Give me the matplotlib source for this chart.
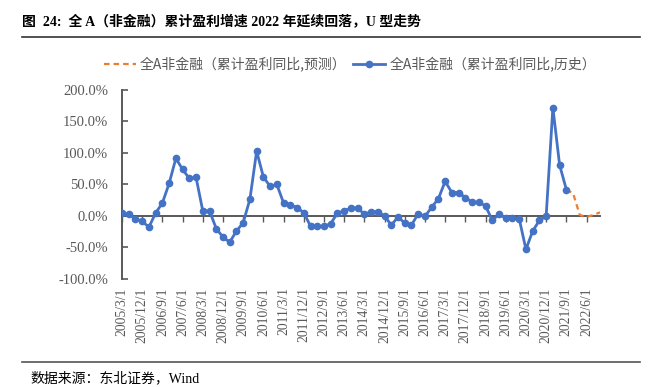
import matplotlib.pyplot as plt
import matplotlib.lines as mlines
import pandas as pd
import numpy as np

# quarterly dates 2005Q1 .. 2022Q4
dates = pd.date_range('2005-03-01', '2022-12-01', freq='3MS')
labels = [f'{d.year}/{d.month}/1' for d in dates]

# cumulative profit growth, non-financial all-A (%), history
hist = [5.3, 2.7, -4.3, -8.5, -17.6, 4.8, 20.7, 51.6, 91.5, 74.0, 59.6, 61.2,
        8.0, 8.0, -20.0, -33.5, -41.5, -24.0, -10.6, 26.6, 103.0, 62.0, 47.0, 50.0,
        20.7, 18.0, 13.3, 5.3, -16.0, -16.5, -16.5, -12.2, 4.8, 8.0, 12.8, 12.8,
        2.7, 6.9, 6.9, 0.0, -14.4, -1.6, -11.2, -14.4, 3.7, -0.5, 13.8, 27.7,
        54.8, 37.2, 37.2, 29.3, 21.8, 21.8, 16.0, -6.9, 2.7, -3.2, -3.2, -4.3,
        -53.0, -24.0, -6.9, -0.5, 172.0, 81.0, 42.0]
# forecast, starting at the last historical quarter
fcst = [42.0, 36.0, 1.6, -1.5, 1.6, 5.8]

blue = '#4472C4'
orange = '#ED7D31'
grey = '#595959'
serif_cjk = ['Liberation Serif', 'Noto Sans CJK SC']

fig = plt.figure(figsize=(6.63, 3.87), dpi=100)
ax = fig.add_axes([122/663, 1-279/387, 478/663, 189/387])

x_hist = np.arange(len(hist))
x_fcst = np.arange(len(hist)-1, len(hist)-1+len(fcst))
ax.plot(x_fcst, fcst, color=orange, lw=1.6, ls=(0, (2.5, 1.8)), zorder=2)
ax.plot(x_hist, hist, color=blue, lw=2.0, marker='o', ms=4.5, zorder=3)

ax.set_xlim(0, len(dates)-1)
ax.set_ylim(-100, 200)
ax.set_yticks(np.arange(-100, 201, 50))
ax.set_yticklabels([f'{v:.1f}%' for v in np.arange(-100, 201, 50)],
                   family=serif_cjk, fontsize=10.5, color=grey)
ax.tick_params(axis='y', direction='in', length=4, color=grey, width=1.2, pad=10)

ticks = np.arange(0, len(dates), 3)
ax.set_xticks(ticks)
ax.set_xticklabels([labels[i] for i in ticks], rotation=90, family=serif_cjk,
                   fontsize=9.8, color=grey)
ax.tick_params(axis='x', length=0, pad=6)

for s in ['top', 'right', 'bottom']:
    ax.spines[s].set_visible(False)
ax.spines['left'].set_color(grey)
ax.spines['left'].set_linewidth(1.4)

# category axis crossing at zero
sec = ax.secondary_xaxis(1/3)
sec.set_xticks(ticks)
sec.tick_params(axis='x', direction='out', length=4, color=grey, width=1,
                labelbottom=False, labeltop=False)
sec.spines['bottom'].set_color(grey)
sec.spines['bottom'].set_linewidth(1.4)
sec.spines['top'].set_visible(False)

# legend
h1 = mlines.Line2D([], [], color=orange, lw=1.6, ls=(0, (2.5, 1.8)))
h2 = mlines.Line2D([], [], color=blue, lw=2.0, marker='o', ms=4.5)
leg = fig.legend([h1, h2], ['全A非金融（累计盈利同比,预测）', '全A非金融（累计盈利同比,历史）'],
                 loc='center', bbox_to_anchor=(350/663, 1-64/387), ncol=2,
                 frameon=False, handlelength=2.3, handletextpad=0.3, columnspacing=0.5,
                 prop={'family': ['Noto Sans CJK SC'], 'size': 10})
for t in leg.get_texts():
    t.set_color(grey)

# title and source
fig.text(22/663, 1-22/387, '图  24:  全 A（非金融）累计盈利增速 2022 年延续回落，U 型走势',
         family=serif_cjk, fontsize=10, fontweight='bold', va='center', ha='left')
fig.add_artist(mlines.Line2D([22/663, 640/663], [1-37/387, 1-37/387], color='#333333', lw=1.2))
fig.add_artist(mlines.Line2D([22/663, 640/663], [1-362/387, 1-362/387], color='#555555', lw=1.2))
fig.text(30/663, 1-378/387, '数据来源：东北证券，Wind', family=serif_cjk, fontsize=10,
         va='center', ha='left')

fig.savefig('out.png', dpi=100)
